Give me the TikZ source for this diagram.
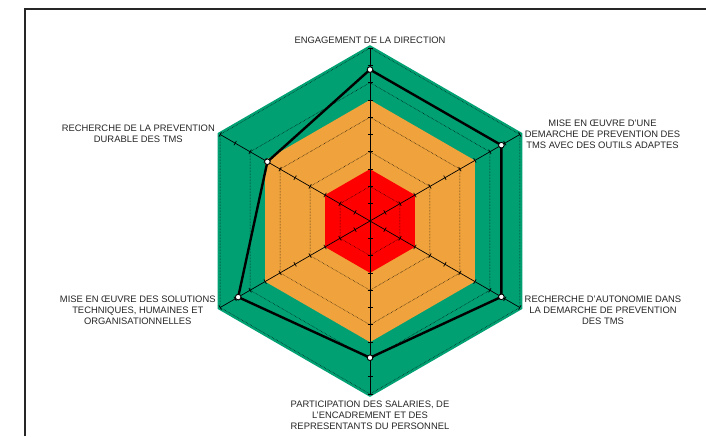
\documentclass[tikz,border=0pt]{standalone}
\usepackage{fontspec}
\setmainfont{Liberation Sans}
\usetikzlibrary{positioning}
\definecolor{vertzone}{RGB}{0,160,115}
\definecolor{orangezone}{RGB}{240,163,60}
\definecolor{rougezone}{RGB}{255,0,0}
\newcommand{\hexa}[1]{(90:#1) -- (30:#1) -- (-30:#1) -- (-90:#1) -- (210:#1) -- (150:#1) -- cycle}
\tikzset{
zone/.style={line join=miter},
grille/.style={densely dotted,line width=0.5pt},
axe/.style={line width=0.7pt},
courbe/.style={line width=2.4pt,line join=miter},
point/.style={circle,draw=black,fill=white,line width=0.8pt,inner sep=0pt,minimum size=5.5pt},
etiquette/.style={align=center,text=black!85,font=\fontsize{9.4}{10.9}\selectfont},
cadre/.style={line width=1.2pt,draw=black!85}}

\begin{document}
\begin{tikzpicture}[x=1pt,y=1pt]
\useasboundingbox (-370,-215) rectangle (336,221);

% cadre
\coordinate (c1) at (-345,-215);
\coordinate (c2) at (336,212);
\draw[cadre] (c1) |- (c2);

% zones
\fill[vertzone,zone,draw=vertzone,line width=5pt] \hexa{173};
\fill[orangezone] \hexa{121.1};
\fill[rougezone] \hexa{51.9};

% grille
\draw[grille] \hexa{34.6};
\draw[grille] \hexa{69.2};
\draw[grille] \hexa{103.8};
\draw[grille] \hexa{138.4};
\draw[grille] \hexa{173};

% axes et graduations
\foreach \a in {90,30,-30,-90,-150,150} {
  \draw[axe] (0,0) -- (\a:173);
  \foreach \k in {1,...,10}
    \draw[axe,rotate=\a] (\k*17.3,-2.5) -- (\k*17.3,2.5);
}

% valeurs
\node[point] (1) at (90:151.4) {};
\node[point] (2) at (30:151.7) {};
\node[point] (3) at (-30:151.7) {};
\node[point] (4) at (-90:136.7) {};
\node[point] (5) at (-150:152.2) {};
\node[point] (6) at (150:118.5) {};

\draw[courbe] (1.center) -- (2.center) -- (3.center) -- (4.center) -- (5.center) -- (6.center) -- cycle;
\foreach \n in {1,...,6}
  \node[point] at (\n) {};

% etiquettes
\node[etiquette] (e1) at (0,180.3) {ENGAGEMENT DE LA DIRECTION};
\node[etiquette] (e2) at (232.5,86.7) {MISE EN ŒUVRE D'UNE\\DEMARCHE DE PREVENTION DES\\TMS AVEC DES OUTILS ADAPTES};
\node[etiquette] (e3) at (233,-89) {RECHERCHE D'AUTONOMIE DANS\\LA DEMARCHE DE PREVENTION\\DES TMS};
\node[etiquette] (e4) at (0,-194.5) {PARTICIPATION DES SALARIES, DE\\L'ENCADREMENT ET DES\\REPRESENTANTS DU PERSONNEL};
\node[etiquette] (e5) at (-232.2,-89.5) {MISE EN ŒUVRE DES SOLUTIONS\\TECHNIQUES, HUMAINES ET\\ORGANISATIONNELLES};
\node[etiquette] (e6) at (-231.7,87.2) {RECHERCHE DE LA PREVENTION\\DURABLE DES TMS};

\end{tikzpicture}
\end{document}
